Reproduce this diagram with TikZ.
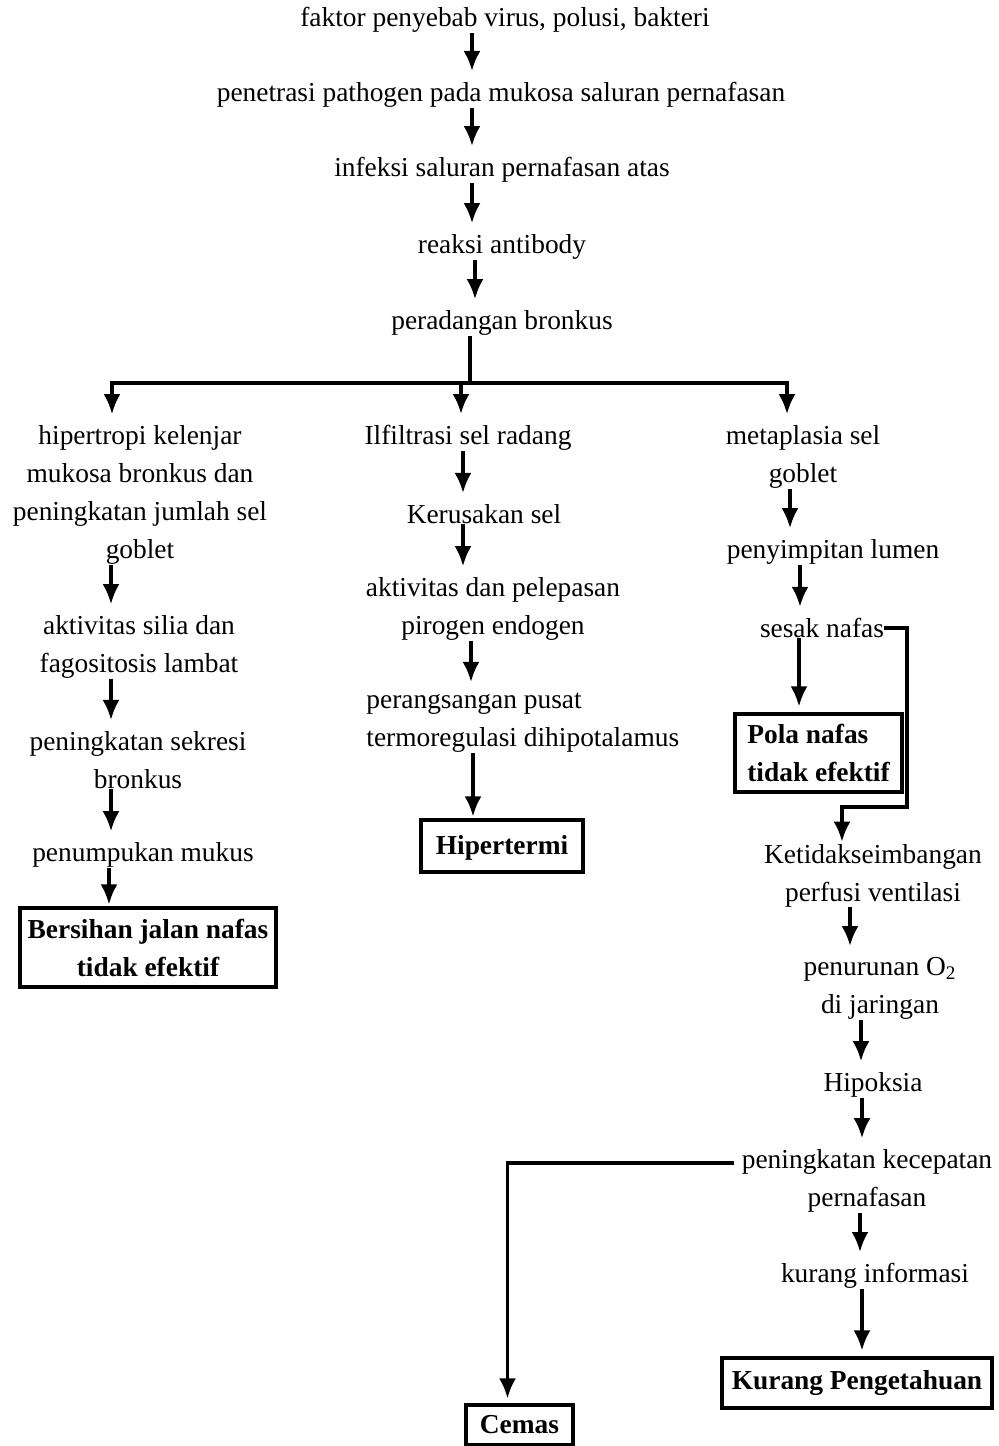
\documentclass[tikz,border=0pt]{standalone}
\usepackage{fontspec}
\setmainfont{Liberation Serif}
\usetikzlibrary{arrows.meta,positioning}

\begin{document}
\begin{tikzpicture}[
x=0.5pt, y=-0.5pt,
font=\fontsize{13.7}{19}\selectfont,
textnode/.style={inner sep=0pt, align=center},
boxnode/.style={rectangle, draw=black, line width=1.6pt, inner sep=0pt, align=center, font=\fontsize{13.7}{19}\selectfont\bfseries},
arrowline/.style={line width=1.7pt, -{Latex[length=10pt,width=8.5pt]}, shorten >=5.5pt},
toboxline/.style={arrowline, shorten >=1pt},
plainline/.style={line width=1.7pt},
]
\useasboundingbox (0,0) rectangle (998,1446);

%Nodes
\node[textnode] (faktor)     at (505,20)  {faktor penyebab virus, polusi, bakteri};
\node[textnode] (penetrasi)  at (501,95)  {penetrasi pathogen pada mukosa saluran pernafasan};
\node[textnode] (infeksi)    at (502,170) {infeksi saluran pernafasan atas};
\node[textnode] (reaksi)     at (502,247) {reaksi antibody};
\node[textnode] (peradangan) at (502,323) {peradangan bronkus};
\coordinate (cabang) at (470,383);

%left branch
\node[textnode] (hipertropi) at (140,495) {hipertropi kelenjar\\mukosa bronkus dan\\peningkatan jumlah sel\\goblet};
\node[textnode] (silia)      at (139,647) {aktivitas silia dan\\fagositosis lambat};
\node[textnode] (sekresi)    at (138,760) {peningkatan sekresi\\bronkus};
\node[textnode] (mukus)      at (143,855) {penumpukan mukus};
\node[boxnode, minimum width=128pt, minimum height=39.5pt] (bersihan) at (148,947.5) {Bersihan jalan nafas\\tidak efektif};

%middle branch
\node[textnode] (infiltrasi) at (468,438) {Ilfiltrasi sel radang};
\node[textnode] (kerusakan)  at (484,514) {Kerusakan sel};
\node[textnode] (pirogen)    at (493,609) {aktivitas dan pelepasan\\pirogen endogen};
\node[textnode, align=left, anchor=west] (termo) at (366,723) {perangsangan pusat\\termoregulasi dihipotalamus};
\node[boxnode, minimum width=81pt, minimum height=26pt, text depth=1pt] (hipertermi) at (502,846) {Hipertermi};

%right branch
\node[textnode] (metaplasia) at (803,457) {metaplasia sel\\goblet};
\node[textnode] (lumen)      at (833,552) {penyimpitan lumen};
\node[textnode] (sesak)      at (822,628) {sesak nafas};
\node[boxnode, align=left, minimum width=83.5pt, minimum height=39pt] (pola) at (818.5,753) {Pola nafas\\tidak efektif};
\node[textnode] (perfusi)    at (873,875.5)  {Ketidakseimbangan\\perfusi ventilasi};
\node[textnode] (oksigen)    at (880,988.5)  {penurunan O\textsubscript{2}\\di jaringan};
\node[textnode] (hipoksia)   at (873,1085)   {Hipoksia};
\node[textnode] (kecepatan)  at (867,1181)   {peningkatan kecepatan\\pernafasan};
\node[textnode] (informasi)  at (875,1276)   {kurang informasi};
\node[boxnode, minimum width=135pt, minimum height=25pt] (pengetahuan) at (857,1383) {Kurang Pengetahuan};
\node[boxnode, minimum width=53.5pt, minimum height=20pt] (cemas) at (519.5,1425) {Cemas};

%Lines
\draw[arrowline] (faktor.south -| 472,0)     -- (penetrasi.north -| 472,0);
\draw[arrowline] (penetrasi.south -| 472,0)  -- (infeksi.north -| 472,0);
\draw[arrowline] (infeksi.south -| 472,0)    -- (reaksi.north -| 472,0);
\draw[arrowline] (reaksi.south -| 475,0)     -- (peradangan.north -| 475,0);
\draw[plainline] (peradangan.south -| cabang) -- (cabang);
\draw[arrowline] (cabang) -| (112,0 |- hipertropi.north);
\draw[arrowline] (cabang) -| (787,0 |- metaplasia.north);
\draw[arrowline] (cabang -| 461,0) -- (461,0 |- infiltrasi.north);

\draw[arrowline] (hipertropi.south -| 111,0) -- (silia.north -| 111,0);
\draw[arrowline] (silia.south -| 111,0)      -- (sekresi.north -| 111,0);
\draw[arrowline] (sekresi.south -| 111,0)    -- (mukus.north -| 111,0);
\draw[toboxline] (mukus.south -| 109,0)      -- (bersihan.north -| 109,0);

\draw[arrowline] (infiltrasi.south -| 463,0) -- (kerusakan.north -| 463,0);
\draw[arrowline] (kerusakan.south -| 463,0)  -- (pirogen.north -| 463,0);
\draw[arrowline] (pirogen.south -| 471,0)    -- (termo.north -| 471,0);
\draw[toboxline] (termo.south -| 473,0)      -- (hipertermi.north -| 473,0);

\draw[arrowline] (metaplasia.south -| 790,0) -- (lumen.north -| 790,0);
\draw[arrowline] (lumen.south -| 800,0)      -- (sesak.north -| 800,0);
\draw[toboxline, shorten >=3pt] (sesak.south -| 799,0) -- (pola.north -| 799,0);
\draw[arrowline, shorten >=1pt] (sesak.east) -- (907,0 |- sesak.east) -- (907,807) -| (842,0 |- perfusi.north);
\draw[arrowline] (perfusi.south -| 850,0)    -- (oksigen.north -| 850,0);
\draw[arrowline] (oksigen.south -| 861,0)    -- (hipoksia.north -| 861,0);
\draw[arrowline] (hipoksia.south -| 862,0)   -- (kecepatan.north -| 862,0);
\draw[arrowline] (kecepatan.south -| 860,0)  -- (informasi.north -| 860,0);
\draw[toboxline, shorten >=3pt] (informasi.south -| 862,0) -- (pengetahuan.north -| 862,0);
\draw[toboxline, shorten >=2.5pt] ([xshift=-3.5pt, yshift=9pt]kecepatan.west) -| ([xshift=-6pt]cemas.north);
\end{tikzpicture}
\end{document}
